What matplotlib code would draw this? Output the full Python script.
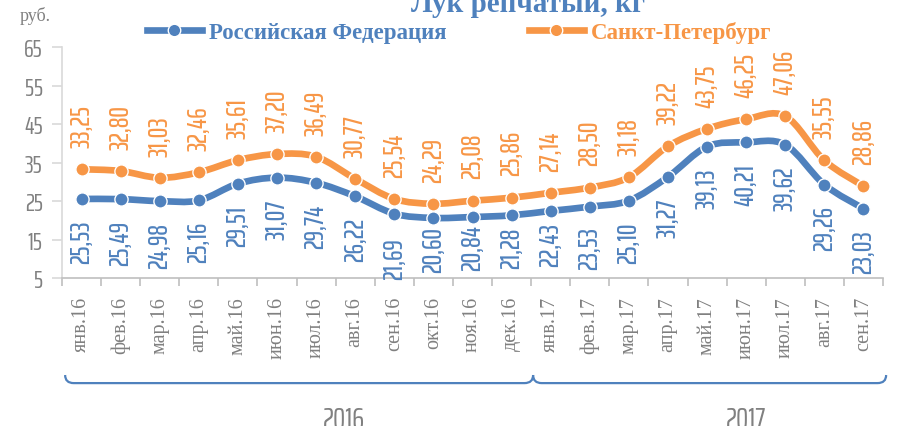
import numpy as np
import matplotlib
matplotlib.use("Agg")
import matplotlib.pyplot as plt
from matplotlib.path import Path
from matplotlib.patches import PathPatch
import matplotlib.transforms as mtransforms

months = ['янв.16', 'фев.16', 'мар.16', 'апр.16', 'май.16', 'июн.16', 'июл.16',
          'авг.16', 'сен.16', 'окт.16', 'ноя.16', 'дек.16',
          'янв.17', 'фев.17', 'мар.17', 'апр.17', 'май.17', 'июн.17', 'июл.17',
          'авг.17', 'сен.17']
rf = [25.53, 25.49, 24.98, 25.16, 29.51, 31.07, 29.74, 26.22, 21.69, 20.60, 20.84, 21.28,
      22.43, 23.53, 25.10, 31.27, 39.13, 40.21, 39.62, 29.26, 23.03]
spb = [33.25, 32.80, 31.03, 32.46, 35.61, 37.20, 36.49, 30.77, 25.54, 24.29, 25.08, 25.86,
       27.14, 28.50, 31.18, 39.22, 43.75, 46.25, 47.06, 35.55, 28.86]
years = ['2016', '2017']
year_edges = [-0.42, 11.55, 20.58]   # bracket ends, in category units
year_label_x = [6.72, 17.0]
yticks = [5, 15, 25, 35, 45, 55, 65]

# labels under the blue line that were nudged by hand in the original (points)
rf_label_gap = {8: -17, 9: -6, 10: -5, 11: -8, 12: -8, 13: -14}

blue = '#4F81BD'
orange = '#F79646'
grey = '#808080'
cond = ['Saira ExtraCondensed', 'DejaVu Sans']
serif = ['Liberation Serif', 'DejaVu Serif']

fig = plt.figure(figsize=(8.97, 4.27), dpi=100)
ax = fig.add_axes([62/897, 1-279/427, (883-62)/897, (279-48)/427])

x = np.arange(len(months))


def smooth_path(xs, ys):
    # bezier through the points, like excel smoothed lines
    verts = [(xs[0], ys[0])]
    codes = [Path.MOVETO]
    n = len(xs)
    for i in range(n - 1):
        x0, y0 = xs[max(i-1, 0)], ys[max(i-1, 0)]
        x1, y1 = xs[i], ys[i]
        x2, y2 = xs[i+1], ys[i+1]
        x3, y3 = xs[min(i+2, n-1)], ys[min(i+2, n-1)]
        verts += [(x1 + (x2-x0)/6, y1 + (y2-y0)/6),
                  (x2 - (x3-x1)/6, y2 - (y3-y1)/6),
                  (x2, y2)]
        codes += [Path.CURVE4]*3
    return Path(verts, codes)


for vals, col, lab in [(rf, blue, 'Российская Федерация'), (spb, orange, 'Санкт-Петербург')]:
    ax.add_patch(PathPatch(smooth_path(x, vals), fill=False, edgecolor=col, lw=4.8,
                           capstyle='round', zorder=2))
    ax.plot(x, vals, 'o', color=col, ms=9.5, mec='white', mew=1, zorder=3)
    ax.plot([], [], '-o', color=col, lw=4.8, ms=9, mec='white', mew=1, label=lab)

for i in range(len(months)):
    ax.annotate(f'{spb[i]:.2f}'.replace('.', ','), (x[i], spb[i]), xytext=(0, 16),
                textcoords='offset points', ha='center', va='bottom', rotation=90,
                color=orange, fontsize=19, fontweight=500, family=cond)
    ax.annotate(f'{rf[i]:.2f}'.replace('.', ','), (x[i], rf[i]),
                xytext=(0, rf_label_gap.get(i, -15)),
                textcoords='offset points', ha='center', va='top', rotation=90,
                color=blue, fontsize=19, fontweight=500, family=cond)

ax.set_xlim(-0.5, len(months) - 0.5)
ax.set_ylim(5, 65)
ax.set_yticks(yticks)
ax.set_yticklabels([str(v) for v in yticks], family=cond, fontsize=18, color=grey)
ax.set_xticks(x)
ax.set_xticklabels(months, rotation=90, family=serif, fontsize=14.5, color=grey)
ax.set_xticks(np.arange(-0.5, len(months)), minor=True)
ax.tick_params(axis='x', which='major', length=0, pad=13)
ax.tick_params(axis='x', which='minor', length=6, color='#bfbfbf', width=1.2)
ax.tick_params(axis='y', length=7, color='#d9d9d9', width=1.2, pad=7)
for s in ['top', 'right']:
    ax.spines[s].set_visible(False)
ax.spines['left'].set_color('#d9d9d9')
ax.spines['left'].set_linewidth(1.2)
ax.spines['bottom'].set_color('#bfbfbf')
ax.spines['bottom'].set_linewidth(1.2)

# group brackets under the month labels
trans = mtransforms.blended_transform_factory(ax.transData, ax.transAxes)
ybot, ytop = -0.455, -0.42
r = 0.22
for i, yr in enumerate(years):
    start, end = year_edges[i], year_edges[i+1]
    verts = [(start, ytop), (start, ybot), (start + r, ybot),
             (end - r, ybot), (end, ybot), (end, ytop)]
    codes = [Path.MOVETO, Path.CURVE3, Path.CURVE3, Path.LINETO, Path.CURVE3, Path.CURVE3]
    ax.add_patch(PathPatch(Path(verts, codes), fill=False, edgecolor=blue, lw=1.6,
                           transform=trans, clip_on=False))
    ax.text(year_label_x[i], -0.55, yr, transform=trans, ha='center', va='top',
            family=cond, fontsize=22, color=grey)

fig.text(20/897, 1-16/427, 'руб.', family=serif, fontsize=13, color=grey,
         ha='left', va='center')
fig.text(528/897, 1-12/427, 'Лук репчатый, кг', family=serif, fontsize=21,
         fontweight='bold', color=blue, ha='center', va='baseline')

leg = ax.legend(loc='center', bbox_to_anchor=(459/897, 1-33/427),
                bbox_transform=fig.transFigure, ncol=2, frameon=False,
                prop={'family': serif, 'size': 16.5, 'weight': 'bold'},
                handlelength=2.4, columnspacing=3.6, handletextpad=0.3)
for t, c in zip(leg.get_texts(), [blue, orange]):
    t.set_color(c)

fig.savefig('out.png', dpi=100)
